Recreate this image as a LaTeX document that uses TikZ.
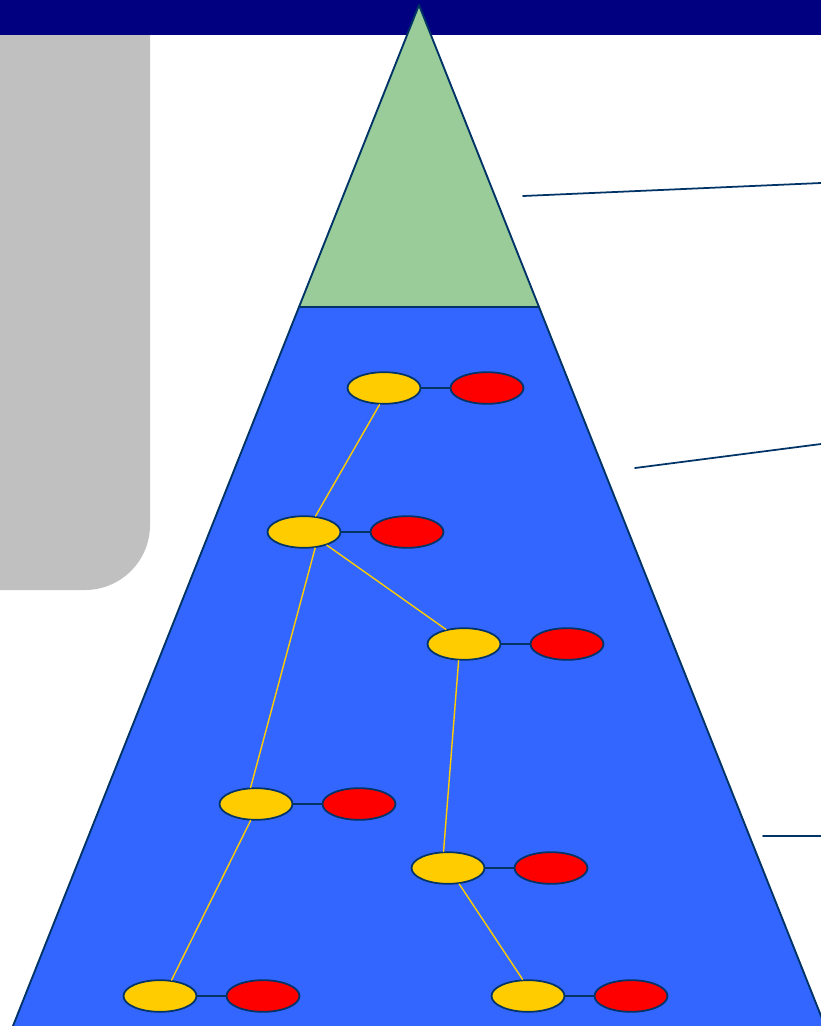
\documentclass[tikz,border=0pt]{standalone}
\usetikzlibrary{shapes.geometric}
\definecolor{barnavy}{RGB}{0,0,128}
\definecolor{edgeblue}{RGB}{0,51,102}
\definecolor{levelgreen}{RGB}{153,204,153}
\definecolor{levelblue}{RGB}{51,102,255}
\definecolor{panelgray}{RGB}{192,192,192}
\definecolor{keyyellow}{RGB}{255,204,0}
\begin{document}
\begin{tikzpicture}[x=0.03cm, y=-0.03cm, line join=round, line cap=round,
    keynode/.style={ellipse, draw=edgeblue, line width=1.5pt, inner sep=0pt,
        minimum width=2.19cm, minimum height=0.95cm},
    keyy/.style={keynode, fill=keyyellow},
    keyr/.style={keynode, fill=red},
    pairline/.style={edgeblue, line width=1.5pt},
    treeline/.style={keyyellow, line width=1.2pt},
    leader/.style={edgeblue, line width=1.5pt}]
    \useasboundingbox (0,0) rectangle (821,1026);
    \clip (0,0) rectangle (821,1026);
    \fill[panelgray] (0,0) -- (150,0) -- (150,525) arc[start angle=0, end angle=90, radius=65] -- (0,590) -- cycle;
    \fill[barnavy] (0,0) rectangle (821,35);
    \draw[fill=levelblue, draw=edgeblue, line width=1.6pt] (299,307) -- (539,307) -- (829,1036) -- (9,1036) -- cycle;
    \draw[fill=levelgreen, draw=edgeblue, line width=1.6pt] (419,5) -- (539,307) -- (299,307) -- cycle;
    \coordinate (c1) at (523,196);
    \coordinate (c1e) at (821,183);
    \coordinate (c2) at (635,468);
    \coordinate (c2e) at (821,444);
    \coordinate (c3) at (763,836);
    \coordinate (c3e) at (821,836);
    \foreach \c in {1,2,3} {
        \draw[leader] (c\c) -- (c\c e);
    }
    \foreach \n/\x/\y in {1/384/388, 2/304/532, 3/464/644, 4/256/804, 5/448/868, 6/160/996, 7/528/996} {
        \node[keyy] (y\n) at (\x,\y) {};
        \node[keyr] (r\n) at (\x+103,\y) {};
        \draw[pairline] (y\n) -- (r\n);
    }
    \foreach \a/\sa/\b/\sb in {1/-105/2/54, 2/-30/3/141, 2/-55/4/108, 3/-108/5/105, 4/-108/6/54, 5/-55/7/108} {
        \draw[treeline] (y\a.\sa) -- (y\b.\sb);
    }
\end{tikzpicture}
\end{document}
